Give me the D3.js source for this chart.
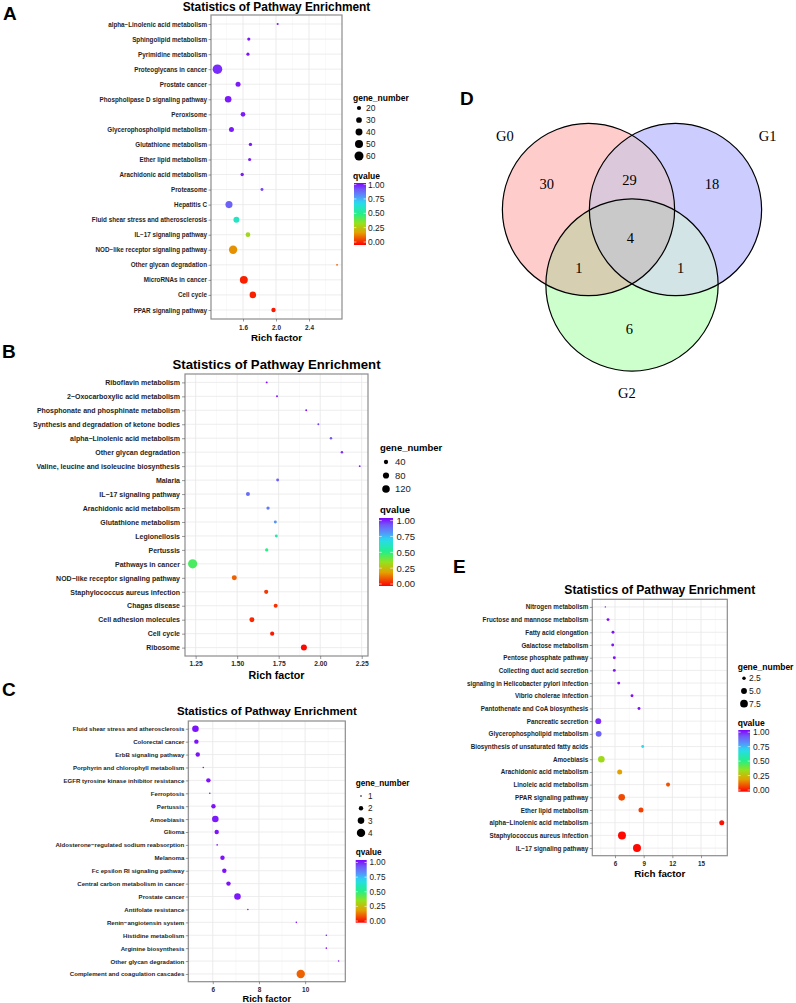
<!DOCTYPE html>
<html>
<head>
<meta charset="utf-8">
<script src="https://cdn.jsdelivr.net/npm/d3@7"></script>
<style>
  body { margin: 0; background: #fff; }
  svg { display: block; }
</style>
</head>
<body>
<div id="fig"></div>
<script>
// ---------- data ----------
// panel A
var aPathways = ["alpha\u2212Linolenic acid metabolism", "Sphingolipid metabolism", "Pyrimidine metabolism",
  "Proteoglycans in cancer", "Prostate cancer", "Phospholipase D signaling pathway", "Peroxisome",
  "Glycerophospholipid metabolism", "Glutathione metabolism", "Ether lipid metabolism",
  "Arachidonic acid metabolism", "Proteasome", "Hepatitis C", "Fluid shear stress and atherosclerosis",
  "IL\u221217 signaling pathway", "NOD\u2212like receptor signaling pathway", "Other glycan degradation",
  "MicroRNAs in cancer", "Cell cycle", "PPAR signaling pathway"];
var aRich = [2.02, 1.67, 1.66, 1.29, 1.54, 1.42, 1.60, 1.46, 1.69, 1.68, 1.59, 1.83, 1.43, 1.52, 1.66, 1.48, 2.74, 1.61, 1.72, 1.97];
var aGenes = [9, 14, 14, 66, 25, 37, 23, 25, 15, 14, 15, 13, 41, 32, 23, 53, 8, 49, 37, 21];
var aQ = [0.97, 0.98, 0.98, 0.95, 0.97, 0.97, 0.97, 0.97, 0.97, 0.97, 0.97, 0.92, 0.88, 0.60, 0.33, 0.18, 0.12, 0.04, 0.04, 0.03];
var aTicks = [1.6, 2.0, 2.4];
var aSizeBreaks = [20, 30, 40, 50, 60];

// panel B
var bPathways = ["Riboflavin metabolism", "2\u2212Oxocarboxylic acid metabolism", "Phosphonate and phosphinate metabolism",
  "Synthesis and degradation of ketone bodies", "alpha\u2212Linolenic acid metabolism", "Other glycan degradation",
  "Valine, leucine and isoleucine biosynthesis", "Malaria", "IL\u221217 signaling pathway",
  "Arachidonic acid metabolism", "Glutathione metabolism", "Legionellosis", "Pertussis", "Pathways in cancer",
  "NOD\u2212like receptor signaling pathway", "Staphylococcus aureus infection", "Chagas disease",
  "Cell adhesion molecules", "Cell cycle", "Ribosome"];
var bRich = [1.678, 1.74, 1.916, 1.989, 2.065, 2.131, 2.238, 1.744, 1.565, 1.686, 1.73, 1.736, 1.678, 1.232, 1.483, 1.675, 1.732, 1.589, 1.711, 1.902];
var bGenes = [9, 9, 9, 9, 14, 14, 8, 20, 35, 24, 20, 20, 24, 175, 53, 38, 35, 53, 38, 76];
var bQ = [0.99, 0.98, 0.97, 0.93, 0.90, 0.95, 0.96, 0.88, 0.86, 0.84, 0.79, 0.58, 0.50, 0.45, 0.12, 0.07, 0.06, 0.05, 0.03, 0.01];
var bTicks = [1.25, 1.50, 1.75, 2.00, 2.25];
var bSizeBreaks = [40, 80, 120];

// panel C
var cPathways = ["Fluid shear stress and atherosclerosis", "Colorectal cancer", "ErbB signaling pathway",
  "Porphyrin and chlorophyll metabolism", "EGFR tyrosine kinase inhibitor resistance", "Ferroptosis", "Pertussis",
  "Amoebiasis", "Glioma", "Aldosterone\u2212regulated sodium reabsorption", "Melanoma",
  "Fc epsilon RI signaling pathway", "Central carbon metabolism in cancer", "Prostate cancer",
  "Antifolate resistance", "Renin\u2212angiotensin system", "Histidine metabolism", "Arginine biosynthesis",
  "Other glycan degradation", "Complement and coagulation cascades"];
var cRich = [5.25, 5.29, 5.35, 5.59, 5.81, 5.87, 6.03, 6.11, 6.17, 6.19, 6.42, 6.50, 6.68, 7.07, 7.52, 9.62, 10.92, 10.92, 11.45, 9.81];
var cGenes = [3, 2, 2, 1, 2, 1, 2, 3, 2, 1, 2, 2, 2, 3, 1, 1, 1, 1, 1, 4];
var cQ = [0.98, 0.98, 0.98, 0.98, 0.98, 0.98, 0.98, 0.97, 0.98, 0.98, 0.98, 0.98, 0.98, 0.97, 0.98, 0.98, 0.98, 0.98, 0.98, 0.12];
var cTicks = [6, 8, 10];
var cSizeBreaks = [1, 2, 3, 4];

// panel E
var ePathways = ["Nitrogen metabolism", "Fructose and mannose metabolism", "Fatty acid elongation",
  "Galactose metabolism", "Pentose phosphate pathway", "Collecting duct acid secretion",
  "signaling in Helicobacter pylori infection", "Vibrio cholerae infection", "Pantothenate and CoA biosynthesis",
  "Pancreatic secretion", "Glycerophospholipid metabolism", "Biosynthesis of unsaturated fatty acids",
  "Amoebiasis", "Arachidonic acid metabolism", "Linoleic acid metabolism", "PPAR signaling pathway",
  "Ether lipid metabolism", "alpha\u2212Linolenic acid metabolism", "Staphylococcus aureus infection",
  "IL\u221217 signaling pathway"];
var eRich = [4.99, 5.27, 5.79, 5.76, 5.93, 5.93, 6.39, 7.78, 8.51, 4.25, 4.29, 8.90, 4.57, 6.49, 11.55, 6.70, 8.72, 17.17, 6.73, 8.30];
var eGenes = [1, 2, 2, 2, 2, 2, 2, 2, 2, 5, 5, 2, 6, 4, 3, 6, 4, 4, 8, 8];
var eQ = [0.99, 0.99, 0.98, 0.98, 0.98, 0.98, 0.98, 0.98, 0.98, 0.95, 0.88, 0.68, 0.33, 0.20, 0.10, 0.09, 0.08, 0.02, 0.01, 0.01];
var eTicks = [6, 9, 12, 15];
var eSizeBreaks = [2.5, 5.0, 7.5];

var qBreaks = [0, 0.25, 0.5, 0.75, 1];

// panel D (venn)
var vennSets = ["G0", "G1", "G2"];
var vennRegions = ["G0", "G0&G1", "G1", "G0&G1&G2", "G0&G2", "G1&G2", "G2"];
var vennCounts = [30, 29, 18, 4, 1, 1, 6];

// ---------- drawing ----------
var svg = d3.select("#fig").append("svg").attr("width", 796).attr("height", 1003);
var defs = svg.append("defs");
var sans = "'Liberation Sans', Arial, sans-serif";
var serif = "'Liberation Serif', 'Times New Roman', serif";

var qColor = d3.scaleLinear()
  .domain([0, 0.2, 0.35, 0.5, 0.68, 0.8, 0.9, 1])
  .range(["#ff0000", "#e3a100", "#95e21c", "#25ef86", "#26dcf0", "#5a8cfa", "#7058f6", "#8200ff"]);

function panelLetter(t, x, y) {
  svg.append("text").attr("x", x).attr("y", y).text(t)
    .attr("font-family", sans).attr("font-weight", "bold").attr("font-size", 19);
}

function dotPlot(p) {
  var g = svg.append("g");
  var L = p.box[0], R = p.box[1], T = p.box[2], B = p.box[3];
  var x = d3.scaleLinear().domain(p.xDomain).range([L, R]);
  var y = d3.scalePoint().domain(p.cats).range([T, B]).padding(0.6);
  var r = d3.scaleSqrt().domain(p.sizeDomain).range(p.rRange);

  // minor grid: midpoints between major ticks
  var step = p.ticks[1] - p.ticks[0];
  var minor = d3.range(p.ticks[0] - step / 2, p.xDomain[1], step).filter(function (d) { return d > p.xDomain[0]; });
  g.selectAll(".minor").data(minor).enter().append("line")
    .attr("x1", function (d) { return x(d); }).attr("x2", function (d) { return x(d); })
    .attr("y1", T).attr("y2", B).attr("stroke", "#f3f3f3").attr("stroke-width", 0.5);
  g.selectAll(".major").data(p.ticks).enter().append("line")
    .attr("x1", function (d) { return x(d); }).attr("x2", function (d) { return x(d); })
    .attr("y1", T).attr("y2", B).attr("stroke", "#e6e6e6").attr("stroke-width", 0.8);
  g.selectAll(".hgrid").data(p.cats).enter().append("line")
    .attr("x1", L).attr("x2", R)
    .attr("y1", function (d) { return y(d); }).attr("y2", function (d) { return y(d); })
    .attr("stroke", "#e9e9e9").attr("stroke-width", 0.8);

  var rows = p.cats.map(function (c, i) { return { cat: c, rf: p.rich[i], n: p.genes[i], q: p.q[i] }; });
  g.selectAll(".pt").data(rows).enter().append("circle")
    .attr("cx", function (d) { return x(d.rf); })
    .attr("cy", function (d) { return y(d.cat); })
    .attr("r", function (d) { return r(d.n); })
    .attr("fill", function (d) { return qColor(d.q); });

  g.append("rect").attr("x", L).attr("y", T).attr("width", R - L).attr("height", B - T)
    .attr("fill", "none").attr("stroke", "#8c8c8c").attr("stroke-width", 1.2);

  var ya = g.append("g").attr("transform", "translate(" + L + ",0)")
    .call(d3.axisLeft(y).tickSize(p.tick).tickPadding(p.pad));
  ya.select(".domain").remove();
  ya.selectAll("line").attr("stroke", "#555").attr("stroke-width", 0.6);
  ya.selectAll("text").attr("font-family", sans).attr("font-size", p.catFont)
    .attr("font-weight", "bold").attr("fill", "#1e1e1e");

  var xa = g.append("g").attr("transform", "translate(0," + B + ")")
    .call(d3.axisBottom(x).tickValues(p.ticks).tickFormat(d3.format(p.fmt)).tickSize(p.tick).tickPadding(p.xPad));
  xa.select(".domain").remove();
  xa.selectAll("line").attr("stroke", "#555").attr("stroke-width", 0.6);
  xa.selectAll("text").attr("font-family", sans).attr("font-size", p.tickFont)
    .attr("font-weight", "bold").attr("fill", "#2a2a2a");

  var mid = (L + R) / 2;
  g.append("text").attr("x", mid).attr("y", p.titleY).attr("text-anchor", "middle")
    .attr("font-family", sans).attr("font-weight", "bold").attr("font-size", p.titleFont)
    .text("Statistics of Pathway Enrichment");
  g.append("text").attr("x", mid).attr("y", p.xTitleY).attr("text-anchor", "middle")
    .attr("font-family", sans).attr("font-weight", "bold").attr("font-size", p.xTitleFont)
    .text("Rich factor");

  // legends
  var lg = p.legend;
  g.append("text").attr("x", lg.x).attr("y", lg.sizeTitleY).text("gene_number")
    .attr("font-family", sans).attr("font-weight", "bold").attr("font-size", lg.font);
  g.selectAll(".lgdot").data(p.sizeBreaks).enter().append("circle")
    .attr("cx", lg.dotX).attr("cy", function (d, i) { return lg.itemY0 + i * lg.itemStep; })
    .attr("r", function (d) { return r(d); }).attr("fill", "#000");
  g.selectAll(".lglab").data(p.sizeBreaks).enter().append("text")
    .attr("x", lg.labelX).attr("y", function (d, i) { return lg.itemY0 + i * lg.itemStep + lg.font * 0.36; })
    .attr("font-family", sans).attr("font-size", lg.font).attr("fill", "#222")
    .text(function (d) { return d3.format(p.sizeFmt)(d); });

  g.append("text").attr("x", lg.x).attr("y", lg.qTitleY).text("qvalue")
    .attr("font-family", sans).attr("font-weight", "bold").attr("font-size", lg.font);
  var gid = "grad" + p.id;
  var grad = defs.append("linearGradient").attr("id", gid)
    .attr("x1", 0).attr("y1", 1).attr("x2", 0).attr("y2", 0);
  grad.selectAll("stop").data(d3.range(0, 1.0001, 0.05)).enter().append("stop")
    .attr("offset", function (d) { return d; })
    .attr("stop-color", function (d) { return qColor(d); });
  g.append("rect").attr("x", lg.barX).attr("y", lg.barY0).attr("width", lg.barW)
    .attr("height", lg.barY1 - lg.barY0).attr("fill", "url(#" + gid + ")");
  var qy = d3.scaleLinear().domain([0, 1]).range(lg.qRange);
  g.selectAll(".qt").data(qBreaks).enter().append("line")
    .attr("x1", lg.barX).attr("x2", lg.barX + lg.barW * 0.2)
    .attr("y1", function (d) { return qy(d); }).attr("y2", function (d) { return qy(d); })
    .attr("stroke", "#fff").attr("stroke-width", 0.6);
  g.selectAll(".qt2").data(qBreaks).enter().append("line")
    .attr("x1", lg.barX + lg.barW * 0.8).attr("x2", lg.barX + lg.barW)
    .attr("y1", function (d) { return qy(d); }).attr("y2", function (d) { return qy(d); })
    .attr("stroke", "#fff").attr("stroke-width", 0.6);
  g.selectAll(".qlab").data(qBreaks).enter().append("text")
    .attr("x", lg.qLabelX).attr("y", function (d) { return qy(d) + lg.font * 0.36; })
    .attr("font-family", sans).attr("font-size", lg.font).attr("fill", "#222")
    .text(function (d) { return d3.format(".2f")(d); });
}

// A
panelLetter("A", 3, 20);
dotPlot({
  id: "A", cats: aPathways, rich: aRich, genes: aGenes, q: aQ, ticks: aTicks, fmt: ".1f",
  box: [211, 342, 15, 319], xDomain: [1.212, 2.80],
  sizeDomain: [8, 66], rRange: [0.9, 4.8], sizeBreaks: aSizeBreaks, sizeFmt: "d",
  tick: 2.5, pad: 1.5, xPad: 4, catFont: 6.3, tickFont: 6.4,
  titleY: 10.5, titleFont: 11.9, xTitleY: 340.5, xTitleFont: 9.8,
  legend: { x: 353, font: 8.5, sizeTitleY: 100.5, dotX: 359, itemY0: 108, itemStep: 12, labelX: 366,
    qTitleY: 178.8, barX: 354, barW: 12, barY0: 183, barY1: 245, qRange: [242, 184.6], qLabelX: 368 }
});

// B
panelLetter("B", 2, 358);
dotPlot({
  id: "B", cats: bPathways, rich: bRich, genes: bGenes, q: bQ, ticks: bTicks, fmt: ".2f",
  box: [185, 368, 374, 656], xDomain: [1.186, 2.288],
  sizeDomain: [5, 175], rRange: [0.7, 4.6], sizeBreaks: bSizeBreaks, sizeFmt: "d",
  tick: 3, pad: 2, xPad: 2.7, catFont: 7.0, tickFont: 6.7,
  titleY: 368.5, titleFont: 13.2, xTitleY: 679.3, xTitleFont: 10.7,
  legend: { x: 380, font: 9.5, sizeTitleY: 451, dotX: 386, itemY0: 462, itemStep: 13.5, labelX: 395,
    qTitleY: 513, barX: 379, barW: 14, barY0: 518, barY1: 586, qRange: [584, 520.6], qLabelX: 396.5 }
});

// C
panelLetter("C", 2, 696);
dotPlot({
  id: "C", cats: cPathways, rich: cRich, genes: cGenes, q: cQ, ticks: cTicks, fmt: "d",
  box: [188.3, 345.3, 721, 981.7], xDomain: [4.94, 11.74],
  sizeDomain: [1, 4], rRange: [0.8, 4.2], sizeBreaks: cSizeBreaks, sizeFmt: "d",
  tick: 2.5, pad: 1.5, xPad: 3.5, catFont: 6.1, tickFont: 6.4,
  titleY: 715, titleFont: 11.4, xTitleY: 1001.5, xTitleFont: 9.3,
  legend: { x: 355.7, font: 8.2, sizeTitleY: 786, dotX: 361, itemY0: 796, itemStep: 12.3, labelX: 368,
    qTitleY: 855, barX: 355.7, barW: 11, barY0: 860, barY1: 922.7, qRange: [921, 862.5], qLabelX: 369.5 }
});

// E
panelLetter("E", 453, 572.7);
dotPlot({
  id: "E", cats: ePathways, rich: eRich, genes: eGenes, q: eQ, ticks: eTicks, fmt: "d",
  box: [592.3, 727.3, 599.3, 855.7], xDomain: [3.625, 17.75],
  sizeDomain: [1, 8], rRange: [0.7, 4.0], sizeBreaks: eSizeBreaks, sizeFmt: ".1f",
  tick: 2.5, pad: 1.5, xPad: 3.5, catFont: 6.3, tickFont: 6.3,
  titleY: 593.7, titleFont: 12.1, xTitleY: 876.7, xTitleFont: 9.8,
  legend: { x: 737.7, font: 8.5, sizeTitleY: 669.5, dotX: 744, itemY0: 678.3, itemStep: 12.7, labelX: 749,
    qTitleY: 725.5, barX: 738.3, barW: 11.7, barY0: 730, barY1: 791.7, qRange: [790, 732.2], qLabelX: 753 }
});

// D: venn diagram, drawn in unit coordinates (radius 1)
panelLetter("D", 460, 105);
var vx = d3.scaleLinear().domain([0, 1]).range([632, 719]);
var vy = d3.scaleLinear().domain([0, 1]).range([234.7, 321.7]);
var vr = 0.99 * 87;
var setCenter = { G0: [-0.5, -0.2887], G1: [0.5, -0.2887], G2: [0, 0.5774] };
var setFill = { G0: "#ffcccc", G1: "#ccccff", G2: "#ccffcc" };
var setLabelPos = { G0: [-1.46, -1.13], G1: [1.56, -1.13], G2: [-0.06, 1.82] };
var regionPos = { "G0": [-0.98, -0.58], "G0&G1": [-0.03, -0.63], "G1": [0.92, -0.58], "G0&G1&G2": [-0.02, 0.04],
  "G0&G2": [-0.61, 0.38], "G1&G2": [0.56, 0.38], "G2": [-0.03, 1.08] };

vennSets.forEach(function (s) {
  defs.append("clipPath").attr("id", "clip" + s).append("circle")
    .attr("cx", vx(setCenter[s][0])).attr("cy", vy(setCenter[s][1])).attr("r", vr);
});
var vg = svg.append("g");
function vcircle(parent, s, fill) {
  return parent.append("circle").attr("cx", vx(setCenter[s][0])).attr("cy", vy(setCenter[s][1]))
    .attr("r", vr).attr("fill", fill);
}
vennSets.forEach(function (s) { vcircle(vg, s, setFill[s]); });
vcircle(vg.append("g").attr("clip-path", "url(#clipG0)"), "G1", "#dbc9db");
vcircle(vg.append("g").attr("clip-path", "url(#clipG0)"), "G2", "#d6cfb2");
vcircle(vg.append("g").attr("clip-path", "url(#clipG1)"), "G2", "#d3e4e7");
vcircle(vg.append("g").attr("clip-path", "url(#clipG0)").append("g").attr("clip-path", "url(#clipG1)"), "G2", "#c9c9c9");
vennSets.forEach(function (s) {
  vcircle(vg, s, "none").attr("stroke", "#000").attr("stroke-width", 1.2);
});
vg.selectAll(".setlab").data(vennSets).enter().append("text")
  .attr("x", function (d) { return vx(setLabelPos[d][0]); })
  .attr("y", function (d) { return vy(setLabelPos[d][1]) + 5; })
  .attr("text-anchor", "middle").attr("font-family", serif).attr("font-size", 14.5)
  .text(function (d) { return d; });
vg.selectAll(".cnt").data(vennRegions).enter().append("text")
  .attr("x", function (d) { return vx(regionPos[d][0]); })
  .attr("y", function (d) { return vy(regionPos[d][1]) + 5; })
  .attr("text-anchor", "middle").attr("font-family", serif).attr("font-size", 14.5)
  .text(function (d, i) { return vennCounts[i]; });
</script>
</body>
</html>
